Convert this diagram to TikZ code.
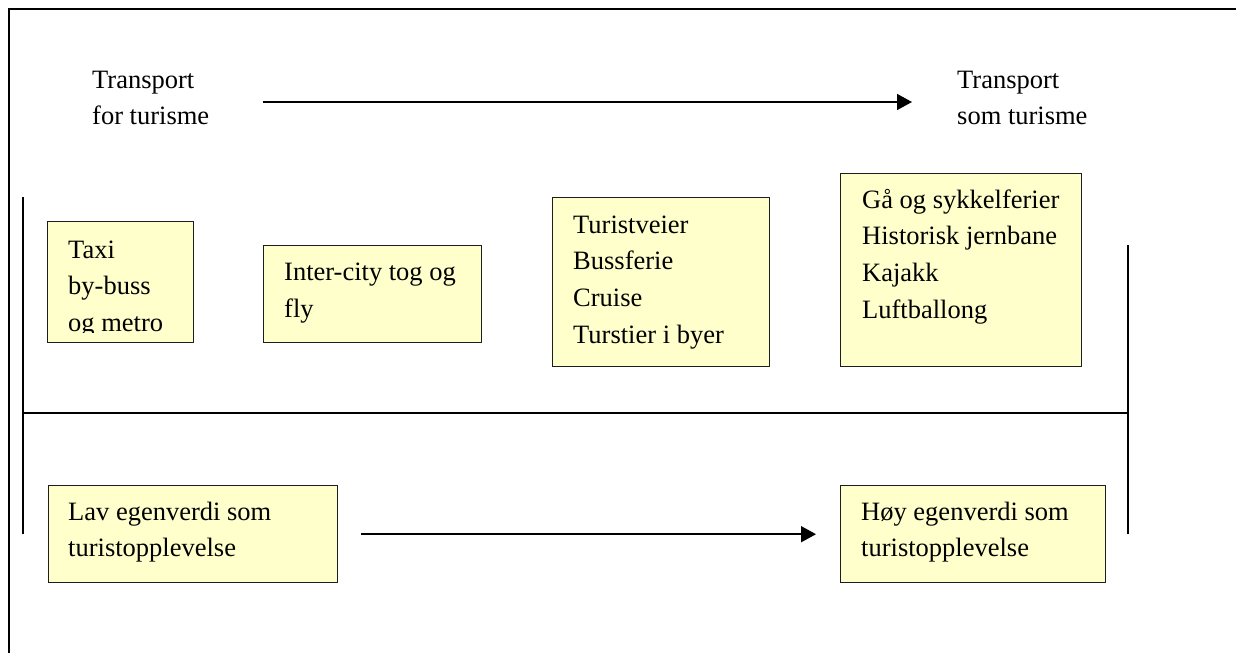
\documentclass[tikz,border=0pt]{standalone}
\usepackage{fontspec}
\setmainfont{Liberation Serif}
\usetikzlibrary{arrows.meta}
\definecolor{boxfill}{HTML}{FFFFCC}
\definecolor{boxline}{HTML}{1E1E1E}
\tikzset{
  panel/.style={rectangle, draw=boxline, line width=1.4pt, fill=boxfill,
                inner sep=0pt, anchor=north west},
  lines/.style={align=left, inner sep=0pt, anchor=north west,
                font=\fontsize{26.5}{36.6}\selectfont},
  flow/.style={-{Triangle[length=15pt,width=16pt]}, line width=1.6pt},
  rule/.style={line width=1.6pt},
  frame/.style={line width=2.4pt},
}
\begin{document}
\begin{tikzpicture}[x=1pt,y=-1pt]
\useasboundingbox (0,0) rectangle (1236,653);

% outer frame (top and left edges)
\draw[frame] (9,653) -- (9,9) -- (1236,9);

% scale: two ends of the transport spectrum
\node[lines] (forturisme) at (92,62.4) {\strut Transport\\for turisme};
\node[lines] (somturisme) at (957,62.4) {\strut Transport\\som turisme};
\coordinate (scalestart) at (263,102);
\coordinate (scaleend) at (912,102);
\draw[flow] (scalestart) -- (scaleend);

% brackets and divider
\draw[rule] (23,197) -- (23,534);
\draw[rule] (1128,245) -- (1128,534);
\draw[rule] (23,413) -- (1128,413);

% transport types
\node[panel, minimum width=146pt, minimum height=121pt] (taxi) at (47,221) {};
\begin{scope}
  \clip (47,221) rectangle (193,332);
  \node[lines] (taxitext) at (68,232.4) {\strut Taxi\\by-buss\\og metro};
\end{scope}

\node[panel, minimum width=218pt, minimum height=97pt] (intercity) at (263,245) {};
\node[lines] (intercitytext) at (284,254.9) {\strut Inter-city tog og\\fly};

\node[panel, minimum width=217pt, minimum height=169pt] (turistveier) at (552,197) {};
\node[lines] (turistveiertext) at (573,207.4) {\strut Turistveier\\Bussferie\\Cruise\\Turstier i byer};

\node[panel, minimum width=241pt, minimum height=193pt] (ferier) at (840,173) {};
\node[lines] (feriertext) at (862,182.4) {\strut Gå og sykkelferier\\Historisk jernbane\\Kajakk\\Luftballong};

% value as tourist experience
\node[panel, minimum width=289pt, minimum height=97pt] (lav) at (48,485) {};
\node[lines] (lavtext) at (68,494.4) {\strut Lav egenverdi som\\turistopplevelse};

\node[panel, minimum width=265pt, minimum height=97pt] (hoy) at (840,485) {};
\node[lines] (hoytext) at (861,494.4) {\strut Høy egenverdi som\\turistopplevelse};

\draw[flow, shorten <=23pt, shorten >=24pt] (lav.east) -- (hoy.west);
\end{tikzpicture}
\end{document}
